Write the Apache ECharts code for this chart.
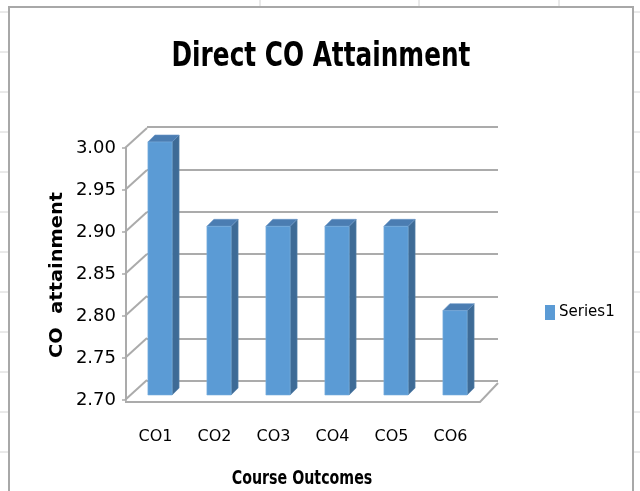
<!DOCTYPE html>
<html>
<head>
<meta charset="utf-8">
<script src="https://cdn.jsdelivr.net/npm/echarts@6/dist/echarts.min.js"></script>
<style>
html,body{margin:0;padding:0;background:#fff;}
#chart{width:640px;height:491px;}
</style>
</head>
<body>
<div id="chart"></div>
<script>
// ---- data ----
var categories = ['CO1', 'CO2', 'CO3', 'CO4', 'CO5', 'CO6'];
var seriesName = 'Series1';
var values = [3.00, 2.90, 2.90, 2.90, 2.90, 2.80];
var yTicks = [2.70, 2.75, 2.80, 2.85, 2.90, 2.95, 3.00];
var titleText = 'Direct CO Attainment';
var xTitle = 'Course Outcomes';
var yTitle = 'CO  attainment';

// ---- styles ----
var FRONT = '#5B9BD5', SIDE = '#3E6B96', TOP = '#4B7DB2';
var GRID_LINE = '#ABABAB';
var DEPTH = 7;            // bar depth offset (px)
var WALL_DX = 22, WALL_DY = -20; // wall depth offset (px)
var NARROW_FONT = '"Liberation Sans Narrow", "DejaVu Sans Condensed", sans-serif';

var yMin = yTicks[0], yMax = yTicks[yTicks.length - 1];
var yStep = 0.05;

var chart = echarts.init(document.getElementById('chart'), null, {renderer: 'canvas'});

var hiddenX = function (gi) {
  return {type: 'category', data: categories, gridIndex: gi, show: false, boundaryGap: true};
};
var hiddenY = function (gi, split) {
  return {
    type: 'value', gridIndex: gi, min: yMin, max: yMax, interval: yStep,
    axisLabel: {show: false}, axisLine: {show: false}, axisTick: {show: false},
    splitLine: {show: !!split, lineStyle: {color: GRID_LINE, width: 2}}
  };
};

var option = {
  backgroundColor: '#ffffff',
  animation: false,
  legend: {
    data: [{name: seriesName, icon: 'rect'}],
    left: 540, top: 300,
    itemWidth: 10, itemHeight: 15, itemGap: 5,
    textStyle: {fontFamily: 'DejaVu Sans', fontSize: 15, color: '#000', padding: [0, 0, 0, -1]}
  },
  graphic: [
    // spreadsheet cell lines outside chart object
    {type: 'group', silent: true, z: -10, children: (function () {
      var c = [];
      [260, 419, 559].forEach(function (x) {
        c.push({type: 'line', shape: {x1: x, y1: 0, x2: x, y2: 7}, style: {stroke: '#D4D4D4', lineWidth: 1}});
      });
      for (var y = 12; y < 491; y += 40) {
        c.push({type: 'line', shape: {x1: 0, y1: y, x2: 9, y2: y}, style: {stroke: '#D4D4D4', lineWidth: 1}});
        c.push({type: 'line', shape: {x1: 633, y1: y, x2: 640, y2: y}, style: {stroke: '#D4D4D4', lineWidth: 1}});
      }
      c.push({type: 'rect', shape: {x: 9, y: 7, width: 624, height: 500},
        style: {fill: '#fff', stroke: '#A8A8A8', lineWidth: 2}});
      return c;
    })()},
    {type: 'text', x: 321, y: 57, scaleX: 0.81, silent: true,
      style: {text: titleText, font: 'bold 34px ' + NARROW_FONT, fill: '#000',
        textAlign: 'center', textVerticalAlign: 'middle'}},
    {type: 'text', x: 302, y: 479, scaleX: 0.79, silent: true,
      style: {text: xTitle, font: 'bold 20px ' + NARROW_FONT, fill: '#000',
        textAlign: 'center', textVerticalAlign: 'middle'}},
    {type: 'text', x: 57, y: 275, rotation: Math.PI / 2, scaleX: 1.08, silent: true,
      style: {text: yTitle, font: 'bold 18px "DejaVu Sans"', fill: '#000',
        textAlign: 'center', textVerticalAlign: 'middle'}}
  ],
  grid: [
    {left: 126, top: 148, width: 354, height: 252},   // front (labels)
    {left: 130.5, top: 142, width: 354, height: 253}, // bars (mid depth)
    {left: 147, top: 127, width: 351, height: 254}    // back wall
  ],
  xAxis: [
    {
      type: 'category', data: categories, gridIndex: 0, boundaryGap: true,
      axisLine: {show: false}, axisTick: {show: false},
      axisLabel: {margin: 29, fontFamily: 'DejaVu Sans', fontSize: 16, color: '#000'}
    },
    hiddenX(1),
    hiddenX(2)
  ],
  yAxis: [
    {
      type: 'value', gridIndex: 0, min: yMin, max: yMax, interval: yStep,
      axisLine: {show: true, lineStyle: {color: GRID_LINE, width: 2}},
      axisTick: {show: true, length: 4, lineStyle: {color: GRID_LINE, width: 1.5}},
      splitLine: {show: false},
      axisLabel: {margin: 10, fontFamily: 'DejaVu Sans', fontSize: 18, color: '#000',
        formatter: function (v) { return v.toFixed(2); }}
    },
    hiddenY(1, false),
    hiddenY(2, true)
  ],
  series: [
    {
      // left wall diagonals and floor
      type: 'custom', xAxisIndex: 0, yAxisIndex: 0, z: 1, silent: true,
      legendHoverLink: false,
      data: yTicks.map(function (v) { return [0, v]; }),
      renderItem: function (params, api) {
        var cs = params.coordSys;
        var v = api.value(1);
        var y = api.coord([0, v])[1];
        var x0 = cs.x - 1;
        var children = [{
          type: 'line',
          shape: {x1: x0, y1: y, x2: x0 + WALL_DX, y2: y + WALL_DY},
          style: {stroke: GRID_LINE, lineWidth: 2}
        }];
        if (Math.abs(v - yMin) < 1e-9) {
          var xr = cs.x + cs.width;
          children.push({
            type: 'polyline',
            shape: {points: [[x0, y + 2], [xr, y + 2], [xr + 18, y - 17]]},
            style: {stroke: GRID_LINE, lineWidth: 2, fill: null}
          });
        }
        return {type: 'group', children: children};
      }
    },
    {
      name: seriesName,
      type: 'custom', xAxisIndex: 1, yAxisIndex: 1, z: 5,
      itemStyle: {color: FRONT},
      data: values.map(function (v, i) { return [i, v]; }),
      renderItem: function (params, api) {
        var i = api.value(0), v = api.value(1);
        var top = api.coord([i, v]);
        var base = api.coord([i, yMin]);
        var w = api.size([1, 0])[0] * 0.41;
        var xl = top[0] - w / 2, xr = top[0] + w / 2;
        var yt = top[1], yb = base[1];
        var d = DEPTH;
        return {
          type: 'group',
          children: [
            {type: 'polygon', shape: {points: [[xr, yt], [xr + d, yt - d], [xr + d, yb - d], [xr, yb]]},
              style: {fill: SIDE, stroke: '#5A84AD', lineWidth: 0.6}},
            {type: 'polygon', shape: {points: [[xl, yt], [xl + d, yt - d], [xr + d, yt - d], [xr, yt]]},
              style: {fill: TOP, stroke: '#6A96C6', lineWidth: 0.6}},
            {type: 'rect', shape: {x: xl, y: yt, width: w, height: yb - yt},
              style: {fill: FRONT, stroke: '#7AAEDD', lineWidth: 0.6}}
          ]
        };
      }
    }
  ]
};
chart.setOption(option);
</script>
</body>
</html>
